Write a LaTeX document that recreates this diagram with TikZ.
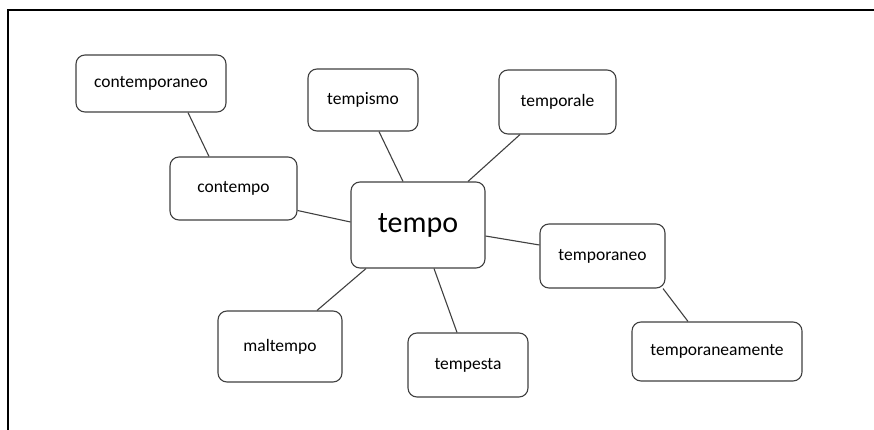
\documentclass[tikz,border=0pt]{standalone}
\usepackage{fontspec}
\setmainfont{Carlito}
\begin{document}
\begin{tikzpicture}[x=1pt,y=-1pt,
  wbox/.style={draw=black!75, line width=1.1pt, rounded corners=9pt, fill=white, inner sep=0pt, font=\fontsize{17.5}{20}\selectfont, text=black},
  link/.style={draw=black!75, line width=1.1pt}]
\useasboundingbox (0,0) rectangle (874,430);
\draw[line width=1.8pt] (8,430) -- (8,10) -- (874,10);
\node[wbox, minimum width=150pt, minimum height=57pt] (contemporaneo) at (151,83.5) {contemporaneo};
\node[wbox, minimum width=127pt, minimum height=63pt] (contempo) at (233.5,188.5) {contempo};
\node[wbox, minimum width=110pt, minimum height=62pt] (tempismo) at (363,100) {tempismo};
\node[wbox, minimum width=117pt, minimum height=64pt] (temporale) at (557.5,102) {temporale};
\node[wbox, minimum width=134pt, minimum height=86pt, font=\fontsize{30}{34}\selectfont] (tempo) at (418,225) {tempo};
\node[wbox, minimum width=125pt, minimum height=64pt] (temporaneo) at (602.5,256) {temporaneo};
\node[wbox, minimum width=124pt, minimum height=71pt] (maltempo) at (280,346.5) {maltempo};
\node[wbox, minimum width=120pt, minimum height=64pt] (tempesta) at (468,365) {tempesta};
\node[wbox, minimum width=170pt, minimum height=59pt] (temporaneamente) at (717,351.5) {temporaneamente};
\draw[link] ([xshift=37pt]contemporaneo.south) -- ([xshift=-24.5pt]contempo.north);
\draw[link] ([yshift=-22pt]contempo.east) -- ([yshift=3pt]tempo.west);
\draw[link] ([xshift=16pt]tempismo.south) -- ([xshift=-15pt]tempo.north);
\draw[link] ([xshift=-37.5pt]temporale.south) -- ([xshift=50pt]tempo.north);
\draw[link] ([yshift=-11pt]tempo.east) -- ([yshift=11pt]temporaneo.west);
\draw[link] ([xshift=-52pt]tempo.south) -- ([xshift=37pt]maltempo.north);
\draw[link] ([xshift=16pt]tempo.south) -- ([xshift=-11pt]tempesta.north);
\draw[link] ([xshift=60.5pt]temporaneo.south) -- ([xshift=-29pt]temporaneamente.north);
\end{tikzpicture}
\end{document}
